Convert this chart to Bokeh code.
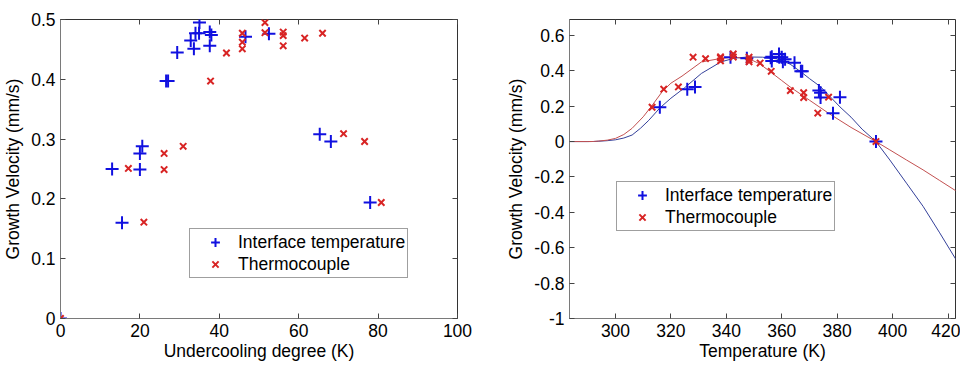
from bokeh.plotting import figure
from bokeh.layouts import row
from bokeh.models import FixedTicker, LinearAxis, Range1d, Legend, LegendItem
from bokeh.embed import file_html
from bokeh.resources import INLINE

# ---------------- data ----------------
# Left panel: growth velocity vs undercooling degree
blue_dT = [0, 13.0, 15.5, 20.0, 20.0, 20.6, 26.6, 27.1, 29.4, 32.8, 33.6, 34.0,
           35.0, 34.9, 37.6, 38.0, 37.6, 46.6, 52.5, 65.3, 68.1, 78.0]
blue_v = [0, 0.250, 0.160, 0.249, 0.276, 0.288, 0.397, 0.397, 0.445, 0.465, 0.451, 0.477,
          0.495, 0.477, 0.479, 0.474, 0.456, 0.471, 0.476, 0.308, 0.296, 0.194]
red_dT = [0, 17.1, 21.0, 26.1, 26.1, 30.9, 37.8, 41.8, 45.8, 45.8, 45.8, 51.5, 51.5,
          56.1, 56.1, 56.1, 61.5, 66.0, 71.3, 76.6, 80.8]
red_v = [0, 0.251, 0.161, 0.276, 0.249, 0.288, 0.397, 0.444, 0.477, 0.462, 0.451, 0.495, 0.478,
         0.479, 0.473, 0.456, 0.469, 0.477, 0.309, 0.296, 0.194]

# Right panel: growth velocity vs temperature
blue_T = [394.0, 381.0, 378.5, 374.0, 374.0, 373.4, 367.4, 366.9, 364.6, 361.2, 360.4, 360.0,
          359.0, 359.1, 356.4, 356.0, 356.4, 347.4, 341.5, 328.7, 325.9, 316.0]
red_T = [394.0, 376.9, 373.0, 367.9, 367.9, 363.1, 356.2, 352.2, 348.2, 348.2, 348.2, 342.5, 342.5,
         337.9, 337.9, 337.9, 332.5, 328.0, 322.7, 317.4, 313.2]

# fitted curves
blue_curve_T = [283, 290, 292, 294, 297, 300, 303, 306, 309, 312, 316, 320, 325, 331, 338, 343,
                348, 353, 358, 363, 367, 370, 374, 378, 381, 385, 389, 394, 399, 405, 411,
                417, 423]
blue_curve_v = [0, 0, 0.0005, 0.002, 0.005, 0.01, 0.02, 0.037, 0.075, 0.12, 0.19, 0.245,
                0.305, 0.385, 0.45, 0.472, 0.478, 0.477, 0.468, 0.438, 0.393, 0.356, 0.31,
                0.245, 0.196, 0.138, 0.07, 0.0, -0.104, -0.235, -0.366, -0.516, -0.67]
red_curve_T = [283, 290, 292, 294, 297, 300, 303, 306, 310, 313, 317, 320, 324, 331, 338, 343,
               349, 352, 356, 360, 363, 370, 377, 385, 394, 399, 405, 411, 417, 423]
red_curve_v = [0, 0, 0.0005, 0.003, 0.008, 0.018, 0.04, 0.075, 0.14, 0.2, 0.285, 0.33, 0.37,
               0.45, 0.47, 0.478, 0.462, 0.44, 0.393, 0.345, 0.309, 0.234, 0.159, 0.08, 0.0,
               -0.047, -0.104, -0.16, -0.22, -0.28]

left_xticks = [0, 20, 40, 60, 80, 100]
left_yticks = [0, 0.1, 0.2, 0.3, 0.4, 0.5]
left_ytick_labels = ["0", "0.1", "0.2", "0.3", "0.4", "0.5"]
right_xticks = [300, 320, 340, 360, 380, 400, 420]
right_yticks = [-1, -0.8, -0.6, -0.4, -0.2, 0, 0.2, 0.4, 0.6]
right_ytick_labels = ["-1", "-0.8", "-0.6", "-0.4", "-0.2", "0", "0.2", "0.4", "0.6"]

labels = ["Interface temperature", "Thermocouple"]

FONT = "Liberation Sans"
FS = "17.5px"
BLUE = "#1010e0"
RED = "#d82424"
BLUE_LINE = "#34409a"
RED_LINE = "#c25050"
FRAME = "#333333"
AXIS = "#7a7a7a"
TICK = "#444444"


def style(p, xticks, yticks, ylabels, xlabel, ylabel):
    p.outline_line_color = FRAME
    p.outline_line_width = 1
    p.xgrid.visible = False
    p.ygrid.visible = False
    p.background_fill_color = "white"
    p.border_fill_color = "white"
    for ax in p.xaxis + p.yaxis:
        ax.axis_line_color = AXIS
        ax.major_tick_in = 5
        ax.major_tick_out = 0
        ax.minor_tick_line_color = None
        ax.major_tick_line_color = TICK
        ax.major_label_text_font = FONT
        ax.major_label_text_font_size = FS
        ax.major_label_text_color = "black"
        ax.axis_label_text_font = FONT
        ax.axis_label_text_font_size = FS
        ax.axis_label_text_font_style = "normal"
        ax.axis_label_text_color = "black"
    p.xaxis.ticker = FixedTicker(ticks=xticks)
    p.yaxis.ticker = FixedTicker(ticks=yticks)
    p.xaxis.axis_label = xlabel
    p.yaxis.axis_label = ylabel
    p.xaxis.major_label_standoff = 5
    p.xaxis.axis_label_standoff = 1
    p.yaxis.major_label_standoff = 5
    p.yaxis.axis_label_standoff = 5
    p.yaxis.major_label_overrides = {t: s for t, s in zip(yticks, ylabels)}
    for loc, ticks in (("above", xticks), ("right", yticks)):
        ax = LinearAxis(ticker=FixedTicker(ticks=ticks))
        ax.axis_line_color = None
        ax.major_tick_in = 5
        ax.major_tick_out = 0
        ax.minor_tick_line_color = None
        ax.major_tick_line_color = TICK
        ax.major_label_text_font_size = "1px"
        ax.major_label_text_color = None
        ax.major_label_standoff = 0
        p.add_layout(ax, loc)


def add_legend(p, r_blue, r_red, loc):
    legend = Legend(items=[LegendItem(label=labels[0], renderers=[r_blue]),
                           LegendItem(label=labels[1], renderers=[r_red])],
                    location=loc)
    legend.label_text_font = FONT
    legend.label_text_font_size = FS
    legend.label_text_color = "black"
    legend.border_line_color = "#404040"
    legend.border_line_width = 1
    legend.background_fill_color = "white"
    legend.background_fill_alpha = 1
    legend.padding = 2
    legend.spacing = 0
    legend.margin = 0
    legend.glyph_width = 46
    legend.glyph_height = 22
    legend.label_height = 22
    legend.label_standoff = 0
    p.add_layout(legend, "center")


# ---------------- left figure ----------------
p1 = figure(width=480, height=369, x_range=Range1d(0, 100), y_range=Range1d(0, 0.5),
            output_backend="svg", toolbar_location=None,
            min_border_left=60, min_border_right=23, min_border_top=10, min_border_bottom=51)
style(p1, left_xticks, left_yticks, left_ytick_labels,
      "Undercooling degree (K)", "Growth Velocity (mm/s)")
b1 = p1.scatter(blue_dT, blue_v, marker="cross", size=13, line_color=BLUE, line_width=2)
r1 = p1.scatter(red_dT, red_v, marker="x", size=9, line_color=RED, line_width=2)
add_legend(p1, b1, r1, (129, 40))

# ---------------- right figure ----------------
p2 = figure(width=480, height=369, x_range=Range1d(283.4, 422.7), y_range=Range1d(-1, 0.69),
            output_backend="svg", toolbar_location=None,
            min_border_left=89, min_border_right=5, min_border_top=19, min_border_bottom=50)
style(p2, right_xticks, right_yticks, right_ytick_labels,
      "Temperature (K)", "Growth Velocity (mm/s)")
p2.line(blue_curve_T, blue_curve_v, line_color=BLUE_LINE, line_width=1)
p2.line(red_curve_T, red_curve_v, line_color=RED_LINE, line_width=1)
b2 = p2.scatter(blue_T, blue_v, marker="cross", size=13, line_color=BLUE, line_width=2)
r2 = p2.scatter(red_T, red_v, marker="x", size=9, line_color=RED, line_width=2)
add_legend(p2, b2, r2, (47, 87))

layout = row(p1, p2)
open("out.html", "w").write(file_html(layout, INLINE))
